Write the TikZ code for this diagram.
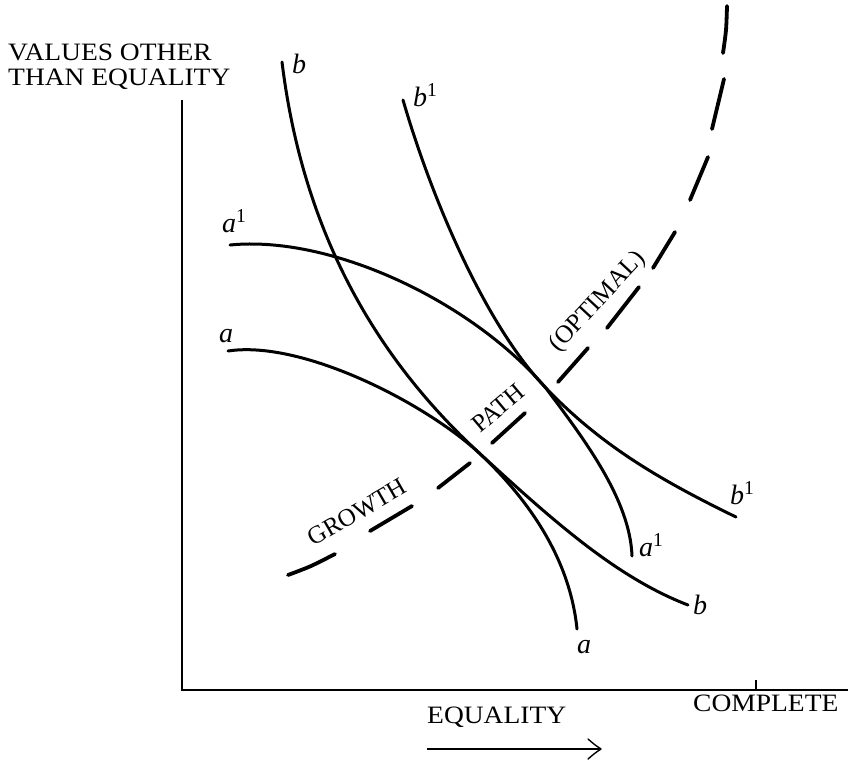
\documentclass[tikz,border=0pt]{standalone}
\usepackage{fontspec}
\setmainfont{Liberation Serif}
\newfontfamily\axisfont[FakeStretch=1.1]{Liberation Serif}
\tikzset{
  curve/.style={line width=3pt, line cap=round, line join=round},
  axisline/.style={line width=1.2pt},
  gdash/.style={line width=3.8pt, line cap=round},
  axislabel/.style={font=\axisfont\fontsize{25}{28}\selectfont, inner sep=0pt, anchor=base west},
  pathlabel/.style={font=\fontsize{25}{27}\selectfont, inner sep=0pt},
  curvelabel/.style={font=\fontsize{28}{30}\selectfont\itshape, inner sep=0pt, anchor=base west},
}
\newcommand{\supone}{\textsuperscript{\upshape 1}}
\begin{document}
\begin{tikzpicture}[x=1pt,y=-1pt]
\useasboundingbox (0,0) rectangle (850,761);
% axes
\coordinate (ytop) at (182,100);
\coordinate (orig) at (182,690);
\coordinate (xend) at (848,690);
\coordinate (tickb) at (756,690);
\coordinate (tickt) at (756,680);
\draw[axisline] (ytop) -- (orig) -- (xend);
\draw[axisline] (tickb) -- (tickt);
% axis labels
\node[axislabel] (yl1) at (8,60) {VALUES OTHER};
\node[axislabel] (yl2) at (8,85) {THAN EQUALITY};
\node[axislabel] (xl) at (427,723) {EQUALITY};
\node[axislabel] (cl) at (693,711) {COMPLETE};
% arrow under EQUALITY
\coordinate (arrs) at (427,749);
\coordinate (arre) at (601,749);
\coordinate (barbu) at (588,739);
\coordinate (barbd) at (588,759);
\coordinate (cu) at (595,745);
\coordinate (cd) at (595,753);
\draw[axisline] (arrs) -- (arre);
\draw[line width=1.4pt, line cap=round, line join=round] (barbu) .. controls (cu) .. (arre) .. controls (cd) .. (barbd);
% tangency points
\coordinate (T1) at (477,451);
\coordinate (T2) at (545,387);
% curve a
\draw[curve] (228,351) .. controls (300,340) and (420,400) .. (T1) .. controls (530,500) and (570,560) .. (577,629);
% curve b
\draw[curve] (282,62) .. controls (305,250) and (390,370) .. (T1) .. controls (550,518) and (615,577) .. (688,605);
% curve a1
\draw[curve] (230,245) .. controls (330,235) and (470,300) .. (T2) .. controls (585,440) and (630,500) .. (632,556);
% curve b1
\draw[curve] (403,100) .. controls (435,210) and (490,330) .. (T2) .. controls (600,445) and (660,480) .. (736,517);
% growth path dashes
\draw[gdash] plot[smooth] coordinates {(288,575) (311,566) (335,554)};
\draw[gdash] (370,531) -- (412,506);
\draw[gdash] (438,488) -- (470,463);
\draw[gdash] (492,443) -- (525,413);
\draw[gdash] (558,382) -- (588,348);
\draw[gdash] (607,328) -- (639,287);
\draw[gdash] (653,268) -- (675,232);
\draw[gdash] (690,200) -- (708,157);
\draw[gdash] (712,129) -- (724,79);
\draw[gdash] plot[smooth] coordinates {(723,53) (726,30) (727,6)};
% path labels
\node[pathlabel, rotate=30] (growth) at (357,512) {GROWTH};
\node[pathlabel, rotate=40] (pathl) at (498,408) {PATH};
\node[pathlabel, rotate=47] (optimal) at (598,302) {(OPTIMAL)};
% curve labels
\node[curvelabel] (lb) at (292,73) {b};
\node[curvelabel] (lb1) at (413,106) {b\supone};
\node[curvelabel] (la1) at (222,232) {a\supone};
\node[curvelabel] (la) at (219,342) {a};
\node[curvelabel] (lb1e) at (730,504) {b\supone};
\node[curvelabel] (la1e) at (639,556) {a\supone};
\node[curvelabel] (lbe) at (693,614) {b};
\node[curvelabel] (lae) at (577,653) {a};
\end{tikzpicture}
\end{document}
